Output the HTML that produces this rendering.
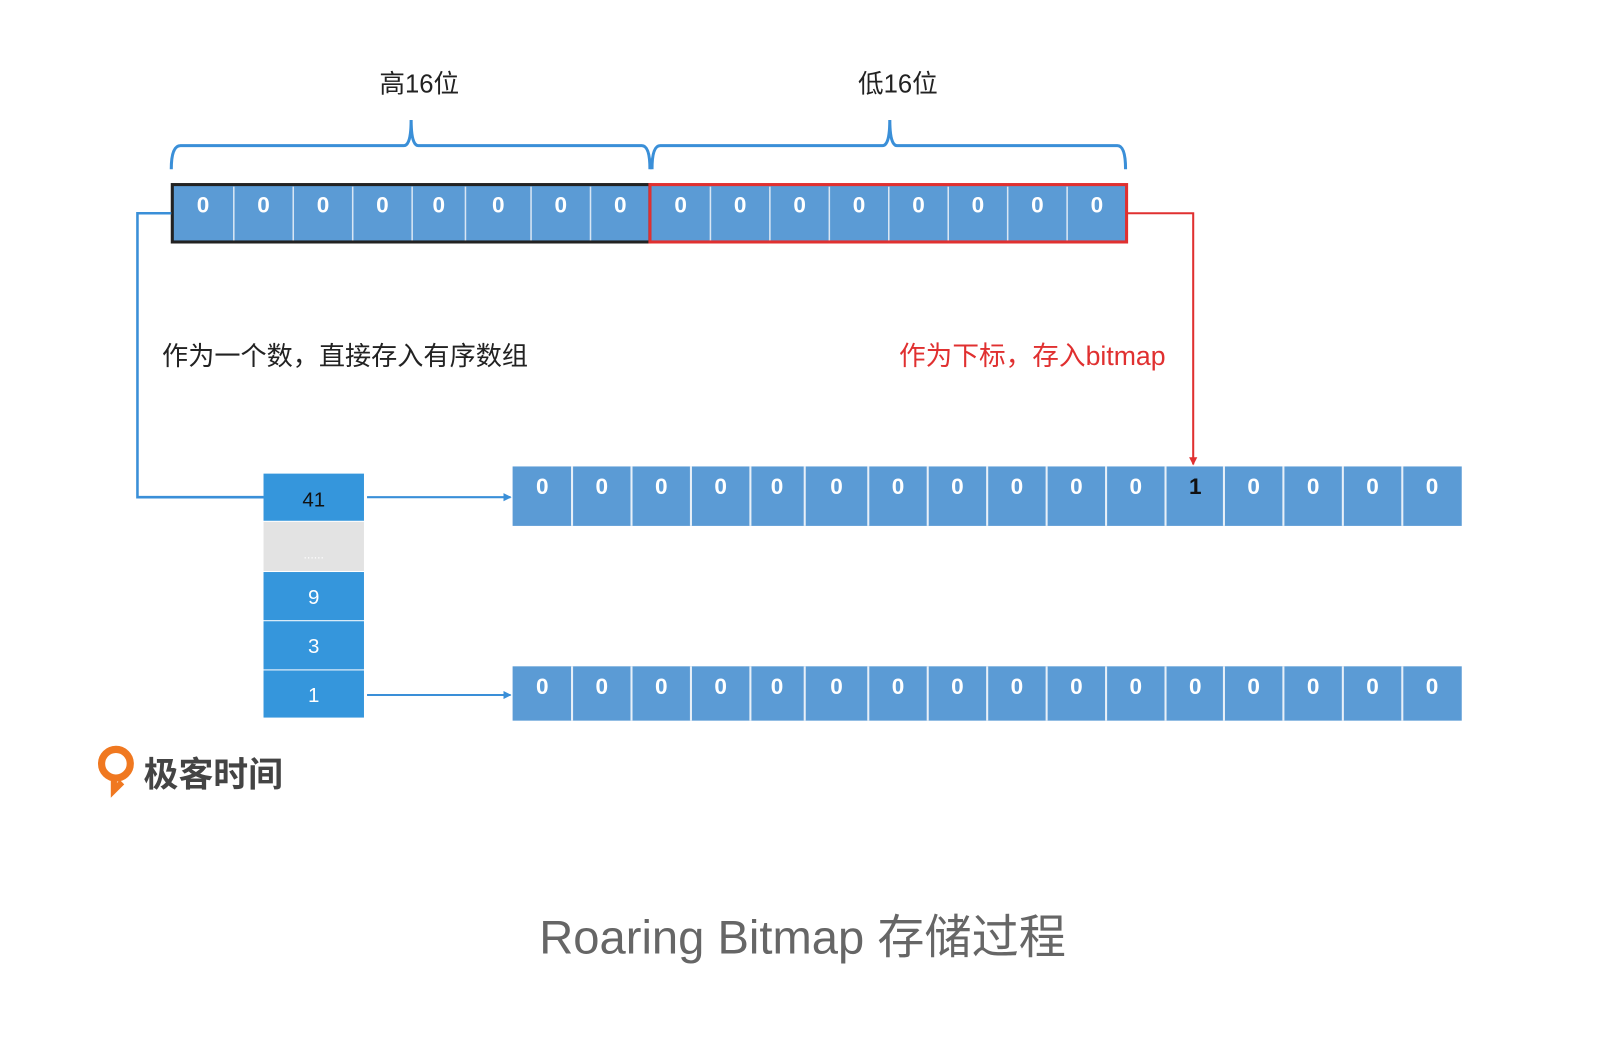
<!DOCTYPE html>
<html><head><meta charset="utf-8"><style>
body{margin:0;width:1598px;height:1028px;background:#fff;position:relative;overflow:hidden;font-family:"Liberation Sans","Noto Sans CJK SC",sans-serif}
#w{position:absolute;left:0;top:0;width:1598px;height:1028px;transform-origin:0 0;transform:translate(-4px,-3px) scale(1.025)}
.t{position:absolute;white-space:nowrap}
</style></head><body><div id="w">
<svg width="1598" height="1028" style="position:absolute;left:0;top:0" font-family="Liberation Sans, Noto Sans CJK SC, sans-serif">
<defs>
<marker id="ab" markerWidth="8" markerHeight="8" refX="7" refY="4" orient="auto" markerUnits="userSpaceOnUse"><path d="M0,0 L8,4 L0,8 z" fill="#3a8fd8"/></marker>
</defs>
<path d="M171,168 Q171,145 180,145 L398,145 Q405,145 405,120 Q405,145 412,145 L630,145 Q638,145 638,168" fill="none" stroke="#3a8fd8" stroke-width="3"/>
<path d="M640,168 Q640,145 648,145 L865,145 Q872,145 872,120 Q872,145 879,145 L1094,145 Q1102,145 1102,168" fill="none" stroke="#3a8fd8" stroke-width="3"/>
<rect x="171" y="183" width="932" height="57" fill="#5b9bd5"/>
<g stroke="#d8e6f4" stroke-width="1.5">
<line x1="232" y1="185" x2="232" y2="238"/><line x1="290" y1="185" x2="290" y2="238"/><line x1="348" y1="185" x2="348" y2="238"/><line x1="406" y1="185" x2="406" y2="238"/><line x1="458" y1="185" x2="458" y2="238"/><line x1="522" y1="185" x2="522" y2="238"/><line x1="580" y1="185" x2="580" y2="238"/>
<line x1="697" y1="185" x2="697" y2="238"/><line x1="755" y1="185" x2="755" y2="238"/><line x1="813" y1="185" x2="813" y2="238"/><line x1="871" y1="185" x2="871" y2="238"/><line x1="929" y1="185" x2="929" y2="238"/><line x1="987" y1="185" x2="987" y2="238"/><line x1="1045" y1="185" x2="1045" y2="238"/>
</g>
<rect x="172" y="183" width="466" height="56" fill="none" stroke="#222" stroke-width="3"/>
<rect x="638" y="183" width="465" height="56" fill="none" stroke="#e03030" stroke-width="3"/>
<g fill="#fff" font-size="22" font-weight="bold" text-anchor="middle">
<text x="202" y="210">0</text><text x="261" y="210">0</text><text x="319" y="210">0</text><text x="377" y="210">0</text><text x="432" y="210">0</text><text x="490" y="210">0</text><text x="551" y="210">0</text><text x="609" y="210">0</text>
<text x="668" y="210">0</text><text x="726" y="210">0</text><text x="784" y="210">0</text><text x="842" y="210">0</text><text x="900" y="210">0</text><text x="958" y="210">0</text><text x="1016" y="210">0</text><text x="1074" y="210">0</text>
</g>
<polyline points="171,211 138,211 138,488 261,488" fill="none" stroke="#3a8fd8" stroke-width="2.5"/>
<line x1="362" y1="488" x2="502" y2="488" stroke="#3a8fd8" stroke-width="2" marker-end="url(#ab)"/>
<line x1="362" y1="681" x2="502" y2="681" stroke="#3a8fd8" stroke-width="2" marker-end="url(#ab)"/>
<polyline points="1103,211 1168,211 1168,456" fill="none" stroke="#e03030" stroke-width="2"/>
<path d="M1164,449 L1168,457 L1172,449 z" fill="#e03030"/>
<rect x="261" y="465" width="98" height="46" fill="#3596dc"/>
<rect x="261" y="512" width="98" height="48" fill="#e3e3e3"/>
<rect x="261" y="561" width="98" height="47" fill="#3596dc"/>
<rect x="261" y="609" width="98" height="47" fill="#3596dc"/>
<rect x="261" y="657" width="98" height="46" fill="#3596dc"/>
<text x="310" y="497" font-size="20" text-anchor="middle" fill="#111">41</text>
<text x="310" y="548" font-size="12" text-anchor="middle" fill="#fff">......</text>
<text x="310" y="592" font-size="20" text-anchor="middle" fill="#fff">9</text>
<text x="310" y="640" font-size="20" text-anchor="middle" fill="#fff">3</text>
<text x="310" y="688" font-size="20" text-anchor="middle" fill="#fff">1</text>
<rect x="504" y="458" width="926" height="58" fill="#5b9bd5"/>
<rect x="504" y="653" width="926" height="53" fill="#5b9bd5"/>
<g stroke="#e8f0f8" stroke-width="2">
<path d="M562,458V516M620,458V516M678,458V516M736,458V516M789,458V516M851,458V516M909,458V516M967,458V516M1025,458V516M1083,458V516M1141,458V516M1198,458V516M1256,458V516M1314,458V516M1372,458V516"/>
<path d="M562,653V706M620,653V706M678,653V706M736,653V706M789,653V706M851,653V706M909,653V706M967,653V706M1025,653V706M1083,653V706M1141,653V706M1198,653V706M1256,653V706M1314,653V706M1372,653V706"/>
</g>
<g fill="#fff" font-size="22" font-weight="bold" text-anchor="middle">
<text x="533" y="485">0</text><text x="591" y="485">0</text><text x="649" y="485">0</text><text x="707" y="485">0</text><text x="762" y="485">0</text><text x="820" y="485">0</text><text x="880" y="485">0</text><text x="938" y="485">0</text><text x="996" y="485">0</text><text x="1054" y="485">0</text><text x="1112" y="485">0</text><text x="1170" y="485" fill="#111">1</text><text x="1227" y="485">0</text><text x="1285" y="485">0</text><text x="1343" y="485">0</text><text x="1401" y="485">0</text>
<text x="533" y="680">0</text><text x="591" y="680">0</text><text x="649" y="680">0</text><text x="707" y="680">0</text><text x="762" y="680">0</text><text x="820" y="680">0</text><text x="880" y="680">0</text><text x="938" y="680">0</text><text x="996" y="680">0</text><text x="1054" y="680">0</text><text x="1112" y="680">0</text><text x="1170" y="680">0</text><text x="1227" y="680">0</text><text x="1285" y="680">0</text><text x="1343" y="680">0</text><text x="1401" y="680">0</text>
</g>
<circle cx="117" cy="748" r="14" fill="none" stroke="#f07820" stroke-width="7"/>
<path d="M115,760 L115,774 L123,766" fill="none" stroke="#f07820" stroke-width="6"/>
</svg>
<div class="t" style="left:374px;top:65px;font-size:25px;color:#222">高16位</div>
<div class="t" style="left:841px;top:65px;font-size:25px;color:#222">低16位</div>
<div class="t" style="left:162px;top:330px;font-size:25.5px;color:#222">作为一个数，直接存入有序数组</div>
<div class="t" style="left:881px;top:330px;font-size:26px;color:#e03030">作为下标，存入bitmap</div>
<div class="t" style="left:144px;top:731px;font-size:34px;color:#444;font-weight:bold">极客时间</div>
<div class="t" style="left:530px;top:881px;font-size:46px;color:#666">Roaring Bitmap 存储过程</div>
</div></body></html>
